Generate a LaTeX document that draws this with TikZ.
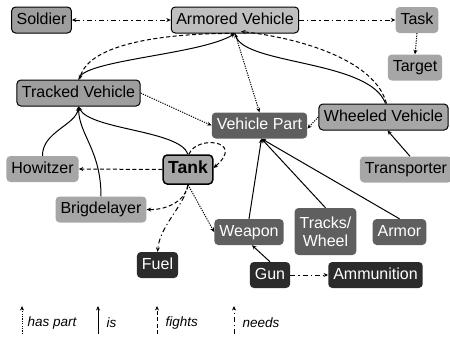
\documentclass[tikz,border=0pt]{standalone}
\usepackage{fontspec}
\setmainfont{Liberation Sans}
\usetikzlibrary{arrows.meta}

\definecolor{boxmid}{HTML}{9E9E9E}
\definecolor{boxpale}{HTML}{BFBFBF}
\definecolor{boxlight}{HTML}{A6A6A6}
\definecolor{boxdark}{HTML}{5F5F5F}
\definecolor{boxblack}{HTML}{2B2B2B}

\begin{document}
\begin{tikzpicture}[x=1pt,y=-1pt,
  >={Stealth[length=4.5pt,width=4pt]},
  cbox/.style={rounded corners=4pt, minimum height=26pt, inner xsep=5pt,
    inner ysep=2pt, font=\fontsize{16}{18}\selectfont},
  onel/.style={cbox, text height=11.5pt, text depth=3.2pt},
  framed/.style={onel, draw=black, line width=1pt},
  pale/.style={onel, fill=boxlight},
  dark/.style={onel, fill=boxdark, text=white},
  black/.style={onel, fill=boxblack, text=white},
  edge/.style={line width=1pt, ->},
  ispart/.style={edge, dash pattern=on 1.2pt off 1.2pt},
  isa/.style={edge},
  fights/.style={edge, dash pattern=on 4pt off 2.5pt},
  needs/.style={edge, dash pattern=on 5pt off 3pt on 1.2pt off 3pt},
  legendtext/.style={font=\fontsize{13.5}{15}\selectfont\itshape, anchor=west}
]
\useasboundingbox (0,0) rectangle (450,338);

% concepts
\node[framed, fill=boxmid] (sol) at (41.5,20) {Soldier};
\node[framed, fill=boxpale] (arm) at (235,20) {Armored Vehicle};
\node[pale] (task) at (417,20) {Task};
\node[pale] (tgt) at (415,67.5) {Target};
\node[framed, fill=boxmid] (trk) at (78.5,93) {Tracked Vehicle};
\node[dark] (vp) at (259.5,125.5) {Vehicle Part};
\node[framed, fill=boxlight] (whl) at (383.5,117) {Wheeled Vehicle};
\node[pale] (how) at (42.5,169) {Howitzer};
\node[onel, draw=black, line width=1.5pt, fill=boxlight, minimum height=29pt,
  font=\fontsize{17.5}{20}\bfseries] (tank) at (188,169.5) {Tank};
\node[pale] (trn) at (406,169.5) {Transporter};
\node[pale] (brg) at (101,209.5) {Brigdelayer};
\node[dark] (wpn) at (249,232) {Weapon};
\node[cbox, fill=boxdark, text=white, align=center, minimum height=47pt,
  inner ysep=4pt] (trw) at (325.5,231.5) {Tracks/\\Wheel};
\node[dark] (amr) at (399.5,232) {Armor};
\node[black] (fuel) at (157.5,265) {Fuel};
\node[black] (gun) at (270,275) {Gun};
\node[black] (ammo) at (375.5,275) {Ammunition};

% needs
\draw[needs, <->] (sol) -- (arm);
\draw[needs] (arm) -- (task);
\draw[needs] (gun) -- (ammo);
\draw[needs] (tank.south) .. controls (185,205) and (160,225) .. (fuel.north);

% has part
\draw[ispart] (task.south) -- (tgt.north);
\draw[ispart] (arm.south) -- (vp.north);
\draw[ispart] (trk.east) -- (vp.west);
\draw[ispart] (whl.west) -- ([yshift=-3pt]vp.east);
\draw[ispart] (tank.south) -- (wpn.west);

% fights
\draw[fights] (tank.west) -- (how.east);
\draw[fights] (tank.south) .. controls (186,200) and (168,210) .. (brg.east);
\draw[fights] ([xshift=1pt]tank.north) .. controls (196,135) and (246,140) .. ([yshift=1.5pt]tank.east);
\draw[fights] (arm.south) .. controls (180,33) and (90,40) .. ([xshift=1pt]trk.north);
\draw[fights] ([xshift=3pt]whl.north) .. controls (375,60) and (300,38) .. ([xshift=6pt,yshift=2pt]arm.south);

% is
\draw[isa] (tank.north) .. controls (180,130) and (90,130) .. (trk.south);
\draw[isa] (how.north) .. controls (42,132) and (76,125) .. (trk.south);
\draw[isa] (brg.north) .. controls (101,150) and (79,135) .. (trk.south);
\draw[isa] (trk.north) .. controls (80,60) and (200,55) .. (arm.south);
\draw[isa] ([xshift=2pt]whl.north) .. controls (370,60) and (245,65) .. (arm.south);
\draw[isa] ([xshift=4pt]trn.north) -- ([xshift=4pt]whl.south);
\draw[isa] (wpn.north) -- ([xshift=2pt]vp.south);
\draw[isa] (trw.north) -- ([xshift=2pt]vp.south);
\draw[isa] (amr.north) -- ([xshift=2pt]vp.south);
\draw[isa] (gun.north) -- ([xshift=3pt]wpn.south);

% legend
\coordinate (lpa) at (22,334);  \coordinate (lpb) at (22,306);
\coordinate (lia) at (98,334);  \coordinate (lib) at (98,306);
\coordinate (lfa) at (157,334); \coordinate (lfb) at (157,306);
\coordinate (lna) at (234,334); \coordinate (lnb) at (234,306);
\draw[ispart] (lpa) -- (lpb);
\draw[isa] (lia) -- (lib);
\draw[fights] (lfa) -- (lfb);
\draw[needs] (lna) -- (lnb);
\node[legendtext] (tpa) at (24,323) {has part};
\node[legendtext] (tia) at (103,323) {is};
\node[legendtext] (tfa) at (162,323) {fights};
\node[legendtext] (tna) at (239,323) {needs};
\end{tikzpicture}
\end{document}
